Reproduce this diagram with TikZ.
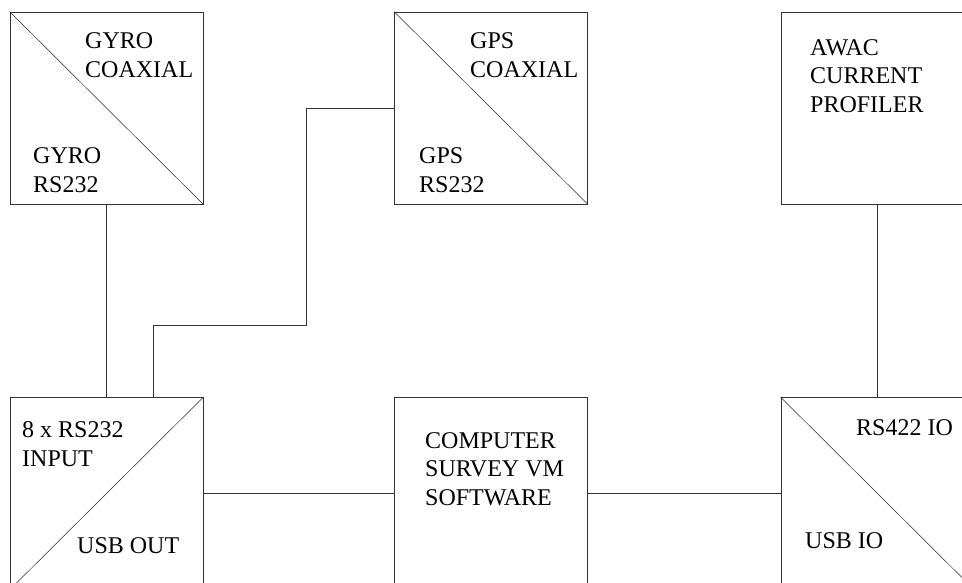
\documentclass[tikz,border=0pt]{standalone}
\usepackage{fontspec}
\setmainfont{Liberation Serif}
\usepackage{tikz}
\usetikzlibrary{positioning}

\begin{document}
\begin{tikzpicture}[x=1pt,y=-1pt]
				
				\tikzstyle{unitbox}=[draw=black!80, line width=.8pt, minimum width=193pt, minimum height=192pt, inner sep=0pt]
				\tikzstyle{split}=[black!85, line width=.5pt]
				\tikzstyle{wire}=[black!80, line width=.8pt]
				\tikzstyle{lbl}=[anchor=base west, align=left, inner sep=0pt, font=\fontsize{24}{28.5}\selectfont]
				
				\clip (0,0) rectangle (962,582);
				\fill[white] (0,0) rectangle (962,582);
				
				% top row
				\node[unitbox] (gyro) at (106.5,108) {};
				\node[unitbox] (gps) at (491,108) {};
				\node[unitbox] (awac) at (877.5,108) {};
				
				% bottom row
				\node[unitbox] (mux) at (106.5,493.5) {};
				\node[unitbox] (comp) at (491,493.5) {};
				\node[unitbox] (rsio) at (877.5,493.5) {};
				
				\draw[split] (gyro.north west) to (gyro.south east);
				\draw[split] (gps.north west) to (gps.south east);
				\draw[split] (mux.north east) to (mux.south west);
				\draw[split] (rsio.north west) to (rsio.south east);
				
				\coordinate (bend) at (306,325);
				\coordinate (muxin) at (153,397);
				
				\draw[wire] (gyro.south) to (mux.north);
				\draw[wire] (gps.west) -| (bend) -| (muxin);
				\draw[wire] (awac.south) to (rsio.north);
				\draw[wire] (mux.east) to (comp.west);
				\draw[wire] (comp.east) to (rsio.west);
				
				% base anchor sits on the last line
				\node[lbl] (gyrocx) at (85,77) {GYRO\\COAXIAL};
				\node[lbl] (gyrors) at (33,192) {GYRO\\RS232};
				\node[lbl] (gpscx) at (470,77) {GPS\\COAXIAL};
				\node[lbl] (gpsrs) at (419,192) {GPS\\RS232};
				\node[lbl] (awaclbl) at (810,112) {AWAC\\CURRENT\\PROFILER};
				\node[lbl] (muxtxt) at (22,466) {8 x RS232\\INPUT};
				\node[lbl] (muxout) at (77,553) {USB OUT};
				\node[lbl] (complbl) at (425,505) {COMPUTER\\SURVEY VM\\SOFTWARE};
				\node[lbl] (rsiotop) at (856,435) {RS422 IO};
				\node[lbl] (rsiobot) at (805,548) {USB IO};
			\end{tikzpicture}
\end{document}
